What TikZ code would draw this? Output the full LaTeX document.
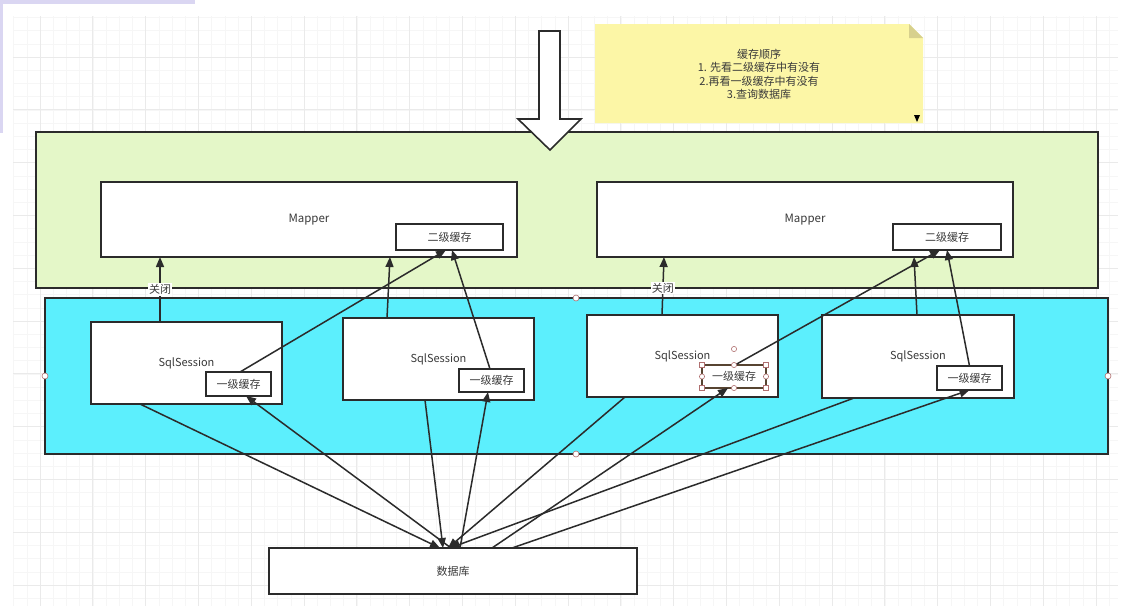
\documentclass[tikz,border=0pt]{standalone}
\usepackage{fontspec}
\setmainfont{Noto Sans CJK SC}
\usetikzlibrary{arrows.meta,calc}
\definecolor{gridminor}{HTML}{F6F6F6}
\definecolor{gridmajor}{HTML}{EAEAEA}
\definecolor{outergreen}{HTML}{E4F7C8}
\definecolor{outerblue}{HTML}{5CEFFD}
\definecolor{notey}{HTML}{FCF6A6}
\definecolor{notefold}{HTML}{D7D08D}
\definecolor{edgec}{HTML}{2B2B2B}
\definecolor{txt}{HTML}{3A3A3A}
\definecolor{lav}{HTML}{DAD6F2}
\definecolor{handle}{HTML}{B07070}
\begin{document}
\begin{tikzpicture}[x=1pt,y=-1pt,
  every node/.style={font=\fontsize{11}{13.5}\selectfont, text=txt, outer sep=0pt, inner sep=0pt},
  container/.style={draw=edgec, line width=1.6pt, anchor=north west},
  box/.style={draw=edgec, line width=1.6pt, fill=white, anchor=north west},
  arr/.style={draw=edgec, line width=1.5pt, -{Triangle[length=10pt,width=8pt]}},
  lbl/.style={fill=white, inner sep=1pt},
  hcirc/.style={draw=handle, fill=white, line width=0.6pt},
]
\useasboundingbox (0,0) rectangle (1132,606);
\fill[white] (0,0) rectangle (1132,606);
% background grid
\foreach \i in {0,...,83}{\pgfmathsetmacro\xx{13.6+13.2*\i}\draw[gridminor,line width=0.6pt] (\xx,16) -- (\xx,606);}
\foreach \j in {0,...,44}{\pgfmathsetmacro\yy{17.4+13.2*\j}\draw[gridminor,line width=0.6pt] (13,\yy) -- (1118,\yy);}
\foreach \i in {0,...,20}{\pgfmathsetmacro\xx{40+52.8*\i}\draw[gridmajor,line width=0.7pt] (\xx,16) -- (\xx,606);}
\foreach \j in {0,...,10}{\pgfmathsetmacro\yy{57+52.8*\j}\draw[gridmajor,line width=0.7pt] (13,\yy) -- (1118,\yy);}
\fill[lav] (0,0) rectangle (195,4);
\fill[lav] (0,0) rectangle (3,133);

% note
\fill[notey] (595,24) -- (909,24) -- (923,38) -- (923,123) -- (595,123) -- cycle;
\fill[notefold] (909,24) -- (909,38) -- (923,38) -- cycle;
\fill[black] (914,115) -- (920,115) -- (917,122) -- cycle;
\node[align=center] (note) at (759,74.5) {缓存顺序\\1. 先看二级缓存中有没有\\2.再看一级缓存中有没有\\3.查询数据库};

% containers
\node[container, fill=outergreen, minimum width=1062pt, minimum height=156pt] (green) at (36,132) {};
\node[container, fill=outerblue, minimum width=1063pt, minimum height=156pt] (blue) at (45,298) {};

% big down arrow
\draw[edgec, line width=1.6pt, fill=white] (539,31) -- (560,31) -- (560,119) -- (581,119) -- (550,150) -- (518,119) -- (539,119) -- cycle;

% mappers
\node[box, minimum width=416pt, minimum height=75pt, font=\fontsize{11.5}{13}\selectfont] (m1) at (101,182) {Mapper};
\node[box, minimum width=416pt, minimum height=75pt, font=\fontsize{11.5}{13}\selectfont] (m2) at (597,182) {Mapper};
\node[box, minimum width=107pt, minimum height=26pt] (l2a) at (396,224) {二级缓存};
\node[box, minimum width=108pt, minimum height=26pt] (l2b) at (893,224) {二级缓存};

% sessions
\node[box, minimum width=191pt, minimum height=82pt] (ss1) at (91,322) {SqlSession};
\node[box, minimum width=191pt, minimum height=82pt] (ss2) at (343,318) {SqlSession};
\node[box, minimum width=191pt, minimum height=82pt] (ss3) at (587,315) {SqlSession};
\node[box, minimum width=192pt, minimum height=83pt] (ss4) at (822,315) {SqlSession};
\node[box, minimum width=65pt, minimum height=24pt] (l1a) at (206,372) {一级缓存};
\node[box, minimum width=65pt, minimum height=23pt] (l1b) at (459,369) {一级缓存};
\node[box, minimum width=64pt, minimum height=23pt, draw=edgec!70!brown] (l1c) at (702,365) {一级缓存};
\node[box, minimum width=65pt, minimum height=24pt] (l1d) at (937,366) {一级缓存};

% database
\node[box, minimum width=368pt, minimum height=46pt] (db) at (269,548) {数据库};

% arrows up to mappers
\draw[arr] ([xshift=-26.5pt]ss1.north) -- node[lbl, pos=0.5] {关闭} ([xshift=-149pt]m1.south);
\draw[arr] ([xshift=-51.5pt]ss2.north) -- ([xshift=81pt]m1.south);
\draw[arr] ([xshift=1.5pt]l1a.north) -- ([xshift=-3.5pt]l2a.south);
\draw[arr] ([xshift=-1.5pt]l1b.north) -- ([xshift=2.5pt]l2a.south);
\draw[arr] ([xshift=-20.5pt]ss3.north) -- node[lbl, pos=0.46] {关闭} ([xshift=-141pt]m2.south);
\draw[arr] ([xshift=-1pt]ss4.north) -- ([xshift=109pt]m2.south);
\draw[arr] ([xshift=1pt]l1c.north) -- ([xshift=-7pt]l2b.south);
\draw[arr] (l1d.north) -- (l2b.south);

% sessions to database
\draw[arr] ([xshift=-46.5pt]ss1.south) -- ([xshift=-13pt]db.north);
\draw[arr] ([xshift=-13.5pt]ss2.south) -- ([xshift=-10pt]db.north);
\draw[arr] ([xshift=-57.5pt]ss3.south) -- ([xshift=-5pt]db.north);
\draw[arr] ([xshift=-64pt]ss4.south) -- ([xshift=-3pt]db.north);

% database to first-level caches
\draw[arr] ([xshift=-2pt]db.north) -- ([xshift=7.5pt]l1a.south);
\draw[arr] ([xshift=7pt]db.north) -- ([xshift=-3.5pt]l1b.south);
\draw[arr] ([xshift=39pt]db.north) -- ([xshift=-6pt]l1c.south);
\draw[arr] ([xshift=59pt]db.north) -- (l1d.south);

% selection handles
\foreach \p in {(45,376),(1108,376),(576,298),(576,454)}{\draw[hcirc] \p circle (3pt);}
\foreach \p in {(702,365),(766,365),(702,388),(766,388)}{\draw[draw=handle, fill=white, line width=0.6pt] \p ++(-2.5,-2.5) rectangle ++(5,5);}
\foreach \p in {(734,365),(734,388),(702,376.5),(766,376.5),(734,349)}{\draw[hcirc] \p circle (2.6pt);}
\end{tikzpicture}
\end{document}
